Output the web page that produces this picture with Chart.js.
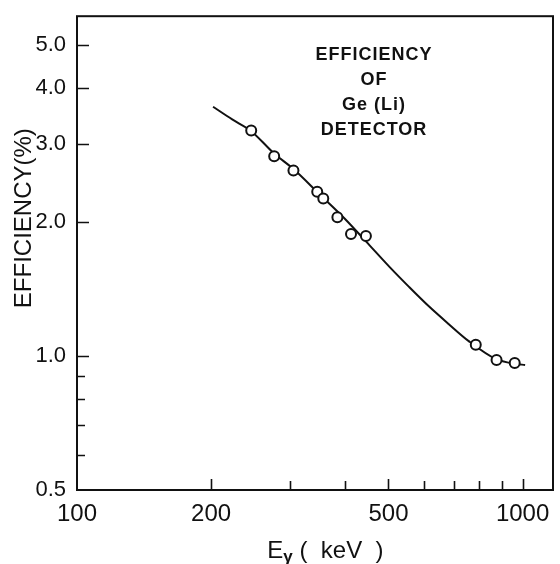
<!DOCTYPE html>
<html>
<head>
<meta charset="utf-8">
<script src="https://cdn.jsdelivr.net/npm/chart.js@4"></script>
<style>
  html, body { margin: 0; padding: 0; background: #fff; }
  #wrap { width: 560px; height: 564px; }
</style>
</head>
<body>
<div id="wrap"><canvas id="eff-chart" width="560" height="564"></canvas></div>
<script>
// measured points (keV, %)
const energy = [246, 277, 306, 346, 357, 384, 412, 445, 785, 874, 960];
const efficiency = [3.21, 2.81, 2.61, 2.34, 2.26, 2.05, 1.88, 1.86, 1.06, 0.98, 0.965];

// hand drawn curve
const fitEnergy = [202, 223, 246, 277, 306, 350, 398, 445, 502, 556, 616, 683, 757, 870, 964, 1013];
const fitEfficiency = [3.63, 3.40, 3.20, 2.85, 2.63, 2.31, 2.04, 1.81, 1.588, 1.43, 1.293, 1.179, 1.080, 0.985, 0.96, 0.955];

const xTickValues = [100, 200, 500, 1000];
const xTickLabels = ['100', '200', '500', '1000'];
const xMinorTicks = [300, 400, 600, 700, 800, 900];
const yTickValues = [0.5, 1.0, 2.0, 3.0, 4.0, 5.0];
const yTickLabels = ['0.5', '1.0', '2.0', '3.0', '4.0', '5.0'];
const yMinorTicks = [0.6, 0.7, 0.8, 0.9];

const noteLines = ['EFFICIENCY', 'OF', 'Ge (Li)', 'DETECTOR'];
const yTitle = 'EFFICIENCY(%)';
const xTitleMain = 'E';
const xTitleSub = '\u03B3';
const xTitleRest = ' (  keV  )';

const FONT = "'Liberation Sans', Arial, sans-serif";

// frame, inward ticks, note and axis titles
const paperPlugin = {
  id: 'paper',
  afterDraw(chart) {
    const ctx = chart.ctx;
    const a = chart.chartArea;
    const xs = chart.scales.x, ys = chart.scales.y;
    ctx.save();
    ctx.strokeStyle = '#111';
    ctx.lineWidth = 2;
    ctx.strokeRect(a.left, a.top, a.right - a.left, a.bottom - a.top);

    ctx.lineWidth = 1.6;
    ctx.beginPath();
    xTickValues.slice(1).concat(xMinorTicks).forEach(v => {
      const px = Math.round(xs.getPixelForValue(v)) + 0.5;
      const len = xMinorTicks.includes(v) ? 9 : 11;
      ctx.moveTo(px, a.bottom);
      ctx.lineTo(px, a.bottom - len);
    });
    yTickValues.slice(1).concat(yMinorTicks).forEach(v => {
      const py = Math.round(ys.getPixelForValue(v)) + 0.5;
      const len = yMinorTicks.includes(v) ? 8 : 12;
      ctx.moveTo(a.left, py);
      ctx.lineTo(a.left + len, py);
    });
    ctx.stroke();

    ctx.fillStyle = '#111';
    ctx.textAlign = 'center';
    ctx.textBaseline = 'middle';
    ctx.font = 'bold 18px ' + FONT;
    ctx.letterSpacing = '1px';
    const nx = xs.getPixelForValue(464);
    const ny = ys.getPixelForValue(4.75);
    noteLines.forEach((t, i) => ctx.fillText(t, nx, ny + i * 25));
    ctx.letterSpacing = '0px';

    // x title with subscript gamma
    ctx.textAlign = 'left';
    ctx.textBaseline = 'alphabetic';
    ctx.font = '24px ' + FONT;
    const wMain = ctx.measureText(xTitleMain).width;
    const wRest = ctx.measureText(xTitleRest).width;
    ctx.font = 'bold 17px ' + FONT;
    const wSub = ctx.measureText(xTitleSub).width;
    let tx = xs.getPixelForValue(361) - (wMain + wSub + wRest) / 2;
    const ty = a.bottom + 68;
    ctx.font = '24px ' + FONT;
    ctx.fillText(xTitleMain, tx, ty);
    tx += wMain;
    ctx.font = 'bold 17px ' + FONT;
    ctx.fillText(xTitleSub, tx, ty + 4);
    tx += wSub;
    ctx.font = '24px ' + FONT;
    ctx.fillText(xTitleRest, tx, ty);

    ctx.textAlign = 'center';
    ctx.textBaseline = 'middle';
    ctx.translate(a.left - 53, ys.getPixelForValue(2.04));
    ctx.rotate(-Math.PI / 2);
    ctx.fillText(yTitle, 0, 0);
    ctx.restore();
  }
};

new Chart(document.getElementById('eff-chart'), {
  type: 'scatter',
  data: {
    datasets: [
      {
        label: 'points',
        data: energy.map((e, i) => ({ x: e, y: efficiency[i] })),
        showLine: false,
        pointRadius: 5,
        pointBorderWidth: 2,
        pointBackgroundColor: '#fff',
        pointBorderColor: '#111',
        order: 0
      },
      {
        label: 'curve',
        data: fitEnergy.map((e, i) => ({ x: e, y: fitEfficiency[i] })),
        showLine: true,
        pointRadius: 0,
        borderColor: '#111',
        borderWidth: 2,
        cubicInterpolationMode: 'monotone',
        order: 1
      }
    ]
  },
  options: {
    responsive: false,
    animation: false,
    layout: { padding: { left: 0, top: 13, right: 6, bottom: 0 } },
    plugins: { legend: { display: false }, tooltip: { enabled: false } },
    scales: {
      x: {
        type: 'logarithmic',
        min: 100,
        max: 1170,
        grid: { display: false },
        border: { display: false },
        afterBuildTicks: s => { s.ticks = xTickValues.map(v => ({ value: v })); },
        afterFit: s => { s.height = 74; },
        ticks: {
          padding: 2,
          color: '#111',
          font: { family: FONT, size: 24 },
          maxRotation: 0,
          autoSkip: false,
          callback: v => xTickLabels[xTickValues.indexOf(v)] ?? ''
        }
      },
      y: {
        type: 'logarithmic',
        min: 0.5,
        max: 5.8,
        grid: { display: false },
        border: { display: false },
        afterBuildTicks: s => { s.ticks = yTickValues.map(v => ({ value: v })); },
        afterFit: s => { s.width = 77; },
        ticks: {
          padding: 3,
          color: '#111',
          font: { family: FONT, size: 22 },
          autoSkip: false,
          callback: v => yTickLabels[yTickValues.indexOf(v)] ?? ''
        }
      }
    }
  },
  plugins: [paperPlugin]
});
</script>
</body>
</html>
